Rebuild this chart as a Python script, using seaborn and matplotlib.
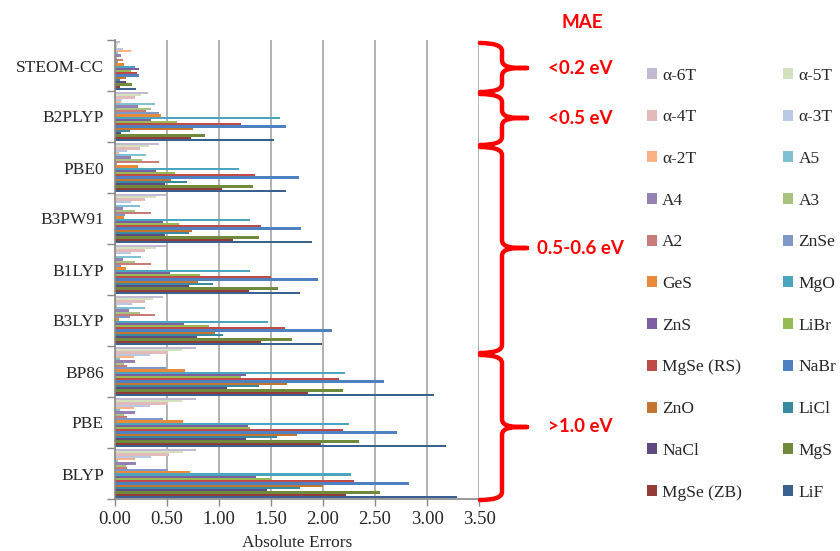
import matplotlib
matplotlib.use('Agg')
import matplotlib.pyplot as plt
import seaborn as sns
import pandas as pd
from matplotlib.path import Path
from matplotlib.patches import PathPatch
from matplotlib.ticker import FixedLocator

methods = ['STEOM-CC', 'B2PLYP', 'PBE0', 'B3PW91', 'B1LYP', 'B3LYP', 'BP86', 'PBE', 'BLYP']
systems = ['α-6T', 'α-5T', 'α-4T', 'α-3T', 'α-2T', 'A5', 'A4', 'A3', 'A2', 'ZnSe', 'GeS',
           'MgO', 'ZnS', 'LiBr', 'MgSe (RS)', 'NaBr', 'ZnO', 'LiCl', 'NaCl', 'MgS', 'MgSe (ZB)', 'LiF']

err_steom = [0.045, 0.03, 0.02, 0.08, 0.15, 0.03, 0.06, 0.02, 0.08, 0.03, 0.09,
             0.19, 0.23, 0.15, 0.21, 0.23, 0.11, 0.045, 0.11, 0.16, 0.05, 0.20]
err_b2plyp = [0.32, 0.25, 0.19, 0.07, 0.06, 0.38, 0.22, 0.35, 0.30, 0.42, 0.44,
              1.59, 0.35, 0.60, 1.21, 1.64, 0.75, 0.14, 0.06, 0.87, 0.73, 1.53]
err_pbe0 = [0.42, 0.33, 0.24, 0.115, 0.035, 0.30, 0.15, 0.26, 0.42, 0.02, 0.22,
            1.19, 0.39, 0.58, 1.35, 1.77, 0.54, 0.69, 0.48, 1.33, 1.03, 1.64]
err_b3pw91 = [0.49, 0.39, 0.29, 0.15, 0.01, 0.24, 0.08, 0.19, 0.35, 0.10, 0.09,
              1.30, 0.46, 0.62, 1.40, 1.79, 0.74, 0.71, 0.48, 1.38, 1.13, 1.89]
err_b1lyp = [0.49, 0.39, 0.29, 0.15, 0.01, 0.25, 0.08, 0.19, 0.35, 0.06, 0.11,
             1.30, 0.53, 0.82, 1.50, 1.95, 0.80, 0.94, 0.71, 1.57, 1.29, 1.78]
err_b3lyp = [0.46, 0.37, 0.29, 0.16, 0.02, 0.29, 0.13, 0.24, 0.38, 0.14, 0.04,
             1.47, 0.66, 0.90, 1.63, 2.09, 0.96, 1.04, 0.79, 1.70, 1.40, 1.99]
err_bp86 = [0.78, 0.64, 0.51, 0.34, 0.18, 0.05, 0.19, 0.09, 0.12, 0.49, 0.67,
            2.21, 1.26, 1.21, 2.15, 2.59, 1.65, 1.38, 1.08, 2.19, 1.86, 3.07]
err_pbe = [0.78, 0.64, 0.51, 0.34, 0.18, 0.05, 0.19, 0.09, 0.12, 0.46, 0.65,
           2.25, 1.28, 1.30, 2.19, 2.71, 1.75, 1.56, 1.26, 2.35, 1.98, 3.18]
err_blyp = [0.78, 0.65, 0.52, 0.35, 0.19, 0.03, 0.20, 0.11, 0.12, 0.51, 0.72,
            2.27, 1.36, 1.50, 2.30, 2.83, 2.00, 1.78, 1.46, 2.55, 2.22, 3.29]

xticks = [0.0, 0.5, 1.0, 1.5, 2.0, 2.5, 3.0, 3.5]
mae_labels = ['<0.2 eV', '<0.5 eV', '0.5-0.6 eV', '>1.0 eV']

colors = ['#C2B9D3', '#D4E1BF', '#E2BAB9', '#BAC8E1', '#F8B285', '#7FC0D3', '#9682B2',
          '#A8C282', '#C87B79', '#7E99C8', '#E98A3B', '#4AA6BF', '#7B5FA0', '#98BA55',
          '#BE4B48', '#4F80BF', '#C47631', '#378A9F', '#5E4A7E', '#6F8A3B', '#943C39', '#38618F']

all_errs = [err_steom, err_b2plyp, err_pbe0, err_b3pw91, err_b1lyp, err_b3lyp,
            err_bp86, err_pbe, err_blyp]
rows = []
for m, errs in zip(methods, all_errs):
    for s, v in zip(systems, errs):
        rows.append({'method': m, 'system': s, 'error': v})
df = pd.DataFrame(rows)

sns.set_style('white')
plt.rcParams['font.family'] = ['Liberation Serif', 'DejaVu Serif']

W, H = 840, 551
fig = plt.figure(figsize=(W / 100, H / 100), dpi=100)
ax = fig.add_axes([115 / W, 1 - 499 / H, 364 / W, 459 / H])

sns.barplot(data=df, y='method', x='error', hue='system', order=methods,
            hue_order=systems, palette=colors, orient='h', width=0.97, gap=0.0,
            errorbar=None, saturation=1, ax=ax, legend=True, linewidth=0)

handles, labels = ax.get_legend_handles_labels()
ax.get_legend().remove()

ax.set_xlim(0, 3.5)
ax.set_ylim(len(methods) - 0.5, -0.5)
ax.set_xticks(xticks)
ax.set_xticklabels([f'{t:.2f}' for t in xticks], fontsize=13.5)
ax.set_yticks(range(len(methods)))
ax.set_yticklabels(methods, fontsize=12.5)
ax.yaxis.set_minor_locator(FixedLocator([i - 0.5 for i in range(len(methods) + 1)]))
ax.tick_params(axis='y', which='major', length=0, pad=8)
ax.tick_params(axis='y', which='minor', length=6, color='#888888', width=1, left=True)
ax.tick_params(axis='x', which='major', length=5, color='#888888', width=1, bottom=True, pad=4)
ax.set_xlabel('Absolute Errors', fontsize=12.5, labelpad=5)
ax.set_ylabel('')
ax.grid(axis='x', color='#ABABAB', linewidth=1.3)
ax.set_axisbelow(True)
for side in ['top', 'right']:
    ax.spines[side].set_visible(False)
for side in ['left', 'bottom']:
    ax.spines[side].set_color('#888888')
    ax.spines[side].set_linewidth(1.2)

# legend: row-major ordering in two columns
col1 = [handles[i] for i in range(0, len(systems), 2)]
col2 = [handles[i] for i in range(1, len(systems), 2)]
lab1 = [labels[i] for i in range(0, len(systems), 2)]
lab2 = [labels[i] for i in range(1, len(systems), 2)]
fig.legend(col1 + col2, lab1 + lab2, ncol=2, loc='upper left',
           bbox_to_anchor=(631 / W, 1 - 52 / H), frameon=False, fontsize=12.5,
           handlelength=0.6, handleheight=0.6, handletextpad=0.3,
           labelspacing=1.48, columnspacing=2.35)


def px(x, y):
    return (x / W, 1 - y / H)


def brace(y0, y1, ytip, x0=480, xm=502, xt=527):
    r = 8
    verts = [px(x0, y0), px(xm, y0), px(xm, y0 + r),
             px(xm, ytip - r),
             px(xm, ytip), px(xt - 14, ytip), px(xt, ytip),
             px(xt - 14, ytip), px(xm, ytip), px(xm, ytip + r),
             px(xm, y1 - r),
             px(xm, y1), px(x0, y1)]
    codes = [Path.MOVETO, Path.CURVE3, Path.CURVE3,
             Path.LINETO,
             Path.CURVE4, Path.CURVE4, Path.CURVE4,
             Path.CURVE4, Path.CURVE4, Path.CURVE4,
             Path.LINETO,
             Path.CURVE3, Path.CURVE3]
    p = PathPatch(Path(verts, codes), transform=fig.transFigure, fill=False,
                  edgecolor='#FF0000', linewidth=3.2, capstyle='round', joinstyle='round')
    fig.add_artist(p)


brace_spans = [(43, 92, 68), (94, 145, 118), (147, 353, 248), (355, 500, 427)]
for (y0, y1, yt), lab in zip(brace_spans, mae_labels):
    brace(y0, y1, yt)
    fig.text(*px(580, yt), lab, color='#FF0000', fontsize=13.5, fontweight='bold',
             family=['Lato', 'DejaVu Sans'], ha='center', va='center')
fig.text(*px(582, 22), 'MAE', color='#FF0000', fontsize=13.5, fontweight='bold',
         family=['Lato', 'DejaVu Sans'], ha='center', va='center')

fig.savefig('out.png', dpi=100)
